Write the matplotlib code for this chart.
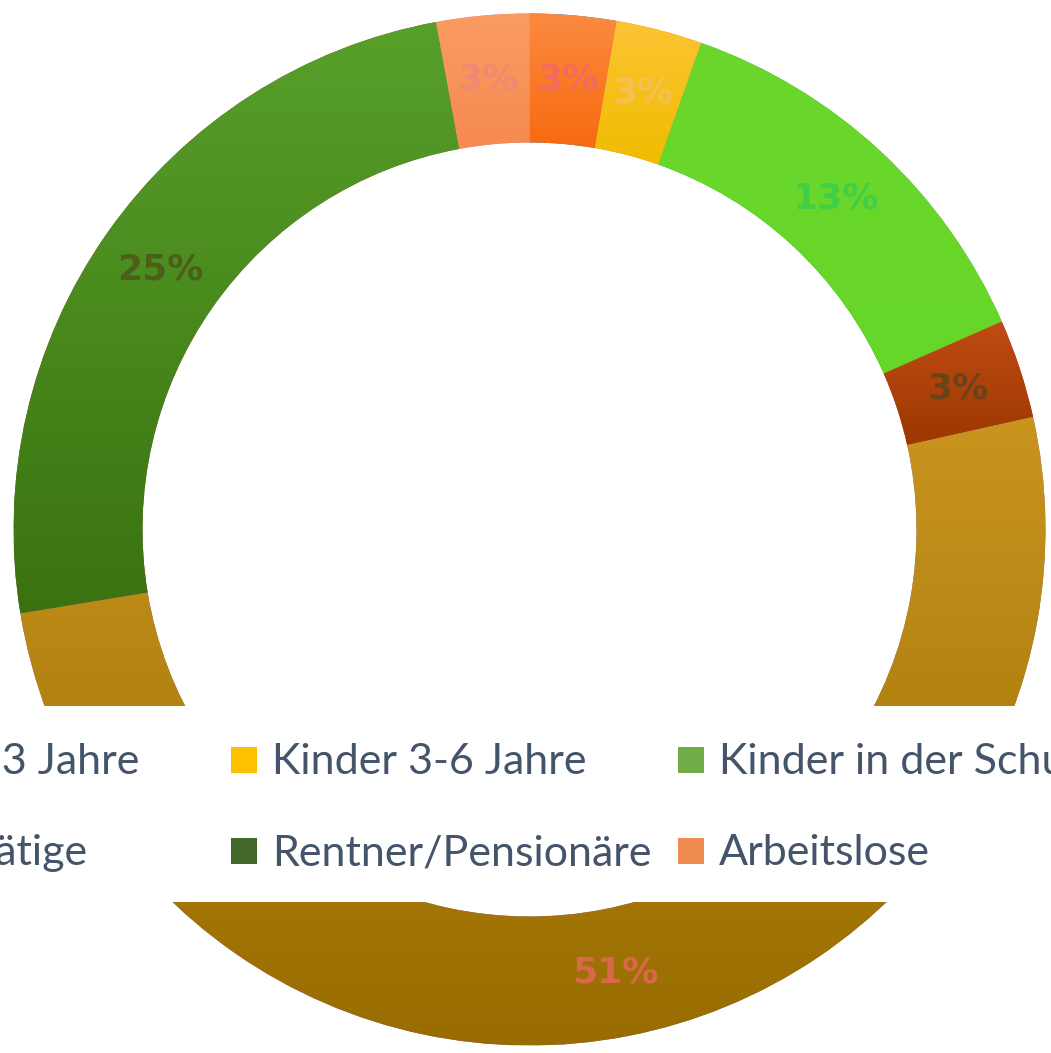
import numpy as np
import matplotlib
matplotlib.use("Agg")
import matplotlib.pyplot as plt
from matplotlib.patches import Rectangle
from matplotlib.colors import LinearSegmentedColormap

# Anteile (in %), im Uhrzeigersinn ab 12 Uhr
kategorien = ["Kinder 0-3 Jahre", "Kinder 3-6 Jahre", "Kinder in der Schule",
              "Auszubildende/Studenten", "Erwerbstätige", "Rentner/Pensionäre",
              "Arbeitslose"]
anteile = [2.7, 2.7, 13.0, 3.1, 50.9, 24.7, 2.9]

# Farbverlauf der Ringsegmente (oben, unten)
verlauf = [("#fb8a40", "#f86a10"), ("#fcc434", "#f0bc00"), ("#6bd72c", "#66d628"),
           ("#c04c14", "#9c3800"), ("#c9951f", "#986c00"), ("#58a02a", "#3a7210"),
           ("#fa9c62", "#f68a50")]
label_farben = ["#f26c5c", "#f4c150", "#42cf48", "#6a4418", "#d9684a", "#4c5f18", "#ee8a72"]
legend_farben = ["#ed7d31", "#ffc000", "#70ad47", "#9e480e", "#997300", "#43682b", "#f08c50"]

W, H = 1051, 1053
fig = plt.figure(figsize=(W / 100, H / 100), dpi=100)
ax = fig.add_axes([0, 0, 1, 1])

# Ring in Pixelkoordinaten (y nach oben negativ)
R = 516
mitte = (529.5, -529.5)
wedges, texts, autotexts = ax.pie(
    anteile, radius=R, center=mitte, startangle=90, counterclock=False,
    wedgeprops=dict(width=0.25 * R, linewidth=0),
    autopct=lambda p: f"{p:.0f}%", pctdistance=0.875,
    textprops=dict(fontsize=26, fontweight="bold", family="DejaVu Sans"))

for w, (oben, unten) in zip(wedges, verlauf):
    ext = w.get_path().get_extents()
    cmap = LinearSegmentedColormap.from_list("g", [unten, oben])
    grad = np.linspace(0, 1, 256).reshape(-1, 1)
    im = ax.imshow(grad, cmap=cmap, origin="lower", aspect="auto",
                   extent=(ext.x0, ext.x1, ext.y0, ext.y1), zorder=1.5)
    im.set_clip_path(w)

for t, c in zip(autotexts, label_farben):
    t.set_color(c)
    t.set_zorder(3)

ax.set_xlim(0, W)
ax.set_ylim(-H, 0)
ax.axis("off")

# Legende (weisser Kasten, 4 Spalten, laeuft ueber den Rand hinaus)
ax.add_patch(Rectangle((-300, -902), W + 600, 196, facecolor="white",
                       edgecolor="none", zorder=4, clip_on=False))
for i, (name, farbe) in enumerate(zip(kategorien, legend_farben)):
    spalte, zeile = i % 4, i // 4
    x = -216 + 447 * spalte
    y = -(773 + 91 * zeile)
    ax.add_patch(Rectangle((x, y), 26, 26, facecolor=farbe, edgecolor="none",
                           zorder=5, clip_on=False))
    ax.text(x + 41, y - 1, name, fontsize=31, family="Lato", color="#44546a",
            va="baseline", ha="left", zorder=6)

fig.savefig("out.png", dpi=100)
